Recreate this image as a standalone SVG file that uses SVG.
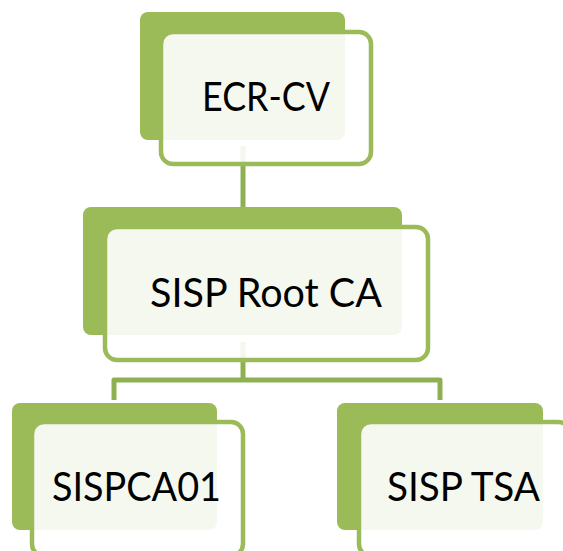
<svg xmlns="http://www.w3.org/2000/svg" width="563" height="551" viewBox="0 0 563 551">
<style>
.back{fill:#9bbb59;}
.front{fill:#ffffff;fill-opacity:0.9;stroke:#9bbb59;stroke-width:4.5;}
.conn{fill:none;stroke:#8fb052;stroke-width:5;stroke-linejoin:round;}
.lbl{font-family:Lato,"Liberation Sans",sans-serif;font-size:40px;fill:#000000;}
</style>
<rect width="563" height="551" fill="#ffffff"/>
<g id="back-layer">
<rect class="back" x="140" y="12" width="205" height="128" rx="8"/>
<rect class="back" x="83" y="207" width="319" height="128" rx="8"/>
<rect class="back" x="12" y="403" width="205" height="127" rx="8"/>
<rect class="back" x="337" y="403" width="206" height="127" rx="8"/>
</g>
<g id="connectors">
<path class="conn" d="M243 146 V207"/>
<path class="conn" d="M243 342 V380"/>
<path class="conn" d="M114 400 V380 H440 V400"/>
</g>
<g id="node-ecr-cv">
<rect class="front" x="161" y="32" width="210" height="132" rx="12"/>
<text class="lbl" x="202" y="111" textLength="128" lengthAdjust="spacingAndGlyphs">ECR-CV</text>
</g>
<g id="node-sisp-root-ca">
<rect class="front" x="105" y="227" width="323" height="133" rx="12"/>
<text class="lbl" x="150" y="307" textLength="232" lengthAdjust="spacingAndGlyphs">SISP Root CA</text>
</g>
<g id="node-sispca01">
<rect class="front" x="32" y="422" width="211" height="134" rx="12"/>
<text class="lbl" x="52" y="501" textLength="169" lengthAdjust="spacingAndGlyphs">SISPCA01</text>
</g>
<g id="node-sisp-tsa">
<rect class="front" x="359" y="422" width="211" height="134" rx="12"/>
<text class="lbl" x="387" y="501" textLength="153" lengthAdjust="spacingAndGlyphs">SISP TSA</text>
</g>
</svg>
